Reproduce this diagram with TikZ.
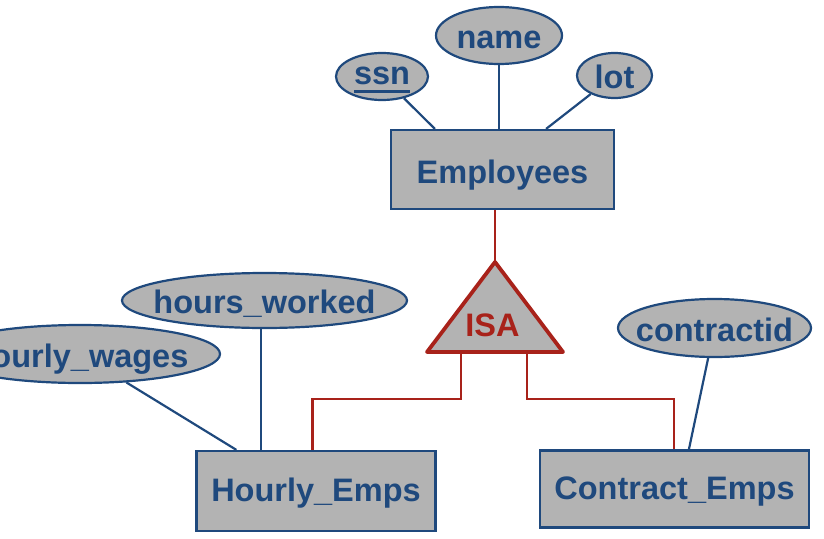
\documentclass[tikz,border=0pt]{standalone}
\usepackage{fontspec}
\setmainfont{Liberation Sans}
\usepackage{tikz}
\usetikzlibrary{shapes.geometric}
\definecolor{erblue}{RGB}{31,73,125}
\definecolor{erred}{RGB}{168,34,26}
\definecolor{ergray}{RGB}{179,179,179}
\newcommand{\attr}[1]{\makebox[0pt]{#1}}
\newcommand{\keyattr}[1]{\setbox0\hbox{#1}\makebox[0pt]{\rlap{\rule[-8pt]{\wd0}{3pt}}\box0}}
\tikzset{
  erfont/.style={font=\bfseries\fontsize{32.5}{38}\selectfont},
  entity/.style={draw=erblue, fill=ergray, line width=2.2pt, text=erblue, erfont, inner sep=0pt, text height=26pt, text depth=6pt},
  attrib/.style={ellipse, draw=erblue, fill=ergray, line width=2.2pt, text=erblue, erfont, inner sep=0pt, text height=27pt, text depth=1pt},
  attrline/.style={draw=erblue, line width=2.2pt},
  isaline/.style={draw=erred, line width=2.2pt},
  isatri/.style={draw=erred, fill=ergray, line width=3.8pt, line join=round},
  isatext/.style={text=erred, erfont, inner sep=0pt}
}
\begin{document}
\begin{tikzpicture}[x=1pt, y=-1pt]
\useasboundingbox (0, 0) rectangle (824, 538);
\clip (0, 0) rectangle (824, 538);
\node[entity, minimum width=223, minimum height=79, text height=32pt, text depth=5pt] (emp) at (502.5, 169.5) {Employees};
\node[entity, minimum width=239, minimum height=80] (hourly) at (316, 491) {Hourly\_Emps};
\node[entity, minimum width=269, minimum height=77] (contract) at (674.5, 489) {Contract\_Emps};
\node[attrib, minimum width=92, minimum height=47, text height=19pt, text depth=3pt] (ssn) at (382, 76.5) {\keyattr{ssn}};
\node[attrib, minimum width=126, minimum height=57] (name) at (499, 35.5) {\attr{name}};
\node[attrib, minimum width=75, minimum height=45] (lot) at (614.5, 75.5) {\attr{lot}};
\node[attrib, minimum width=285, minimum height=55] (hworked) at (264.5, 300.5) {\attr{hours\_worked}};
\node[attrib, minimum width=280, minimum height=58] (hwages) at (80, 354) {\attr{hourly\_wages}};
\node[attrib, minimum width=193, minimum height=58] (cid) at (714.5, 328) {\attr{contractid}};
\coordinate (apex) at (495, 262);
\coordinate (isal) at (427, 352);
\coordinate (isar) at (563, 352);
\filldraw[isatri] (apex) -- (isar) -- (isal) -- cycle;
\node[isatext] (isa) at (492.5, 325) {ISA};
\draw[attrline] (ssn) -- ([xshift=45]emp.north west);
\draw[attrline] (name.south) -- (name.south |- emp.north);
\draw[attrline] (lot) -- ([xshift=-69]emp.north east);
\draw[attrline] (hwages) -- ([xshift=41]hourly.north west);
\draw[attrline] ([xshift=-3.5]hworked.south) -- ([xshift=-3.5]hworked.south |- hourly.north);
\draw[attrline] (cid) -- ([xshift=150]contract.north west);
\draw[isaline] (emp.south -| apex) -- (apex);
\draw[isaline] ([xshift=34]isal) -- ++(0, 47) -| ([xshift=117]hourly.north west);
\draw[isaline] ([xshift=-36]isar) -- ++(0, 47) -| ([xshift=135]contract.north west);
\end{tikzpicture}
\end{document}
